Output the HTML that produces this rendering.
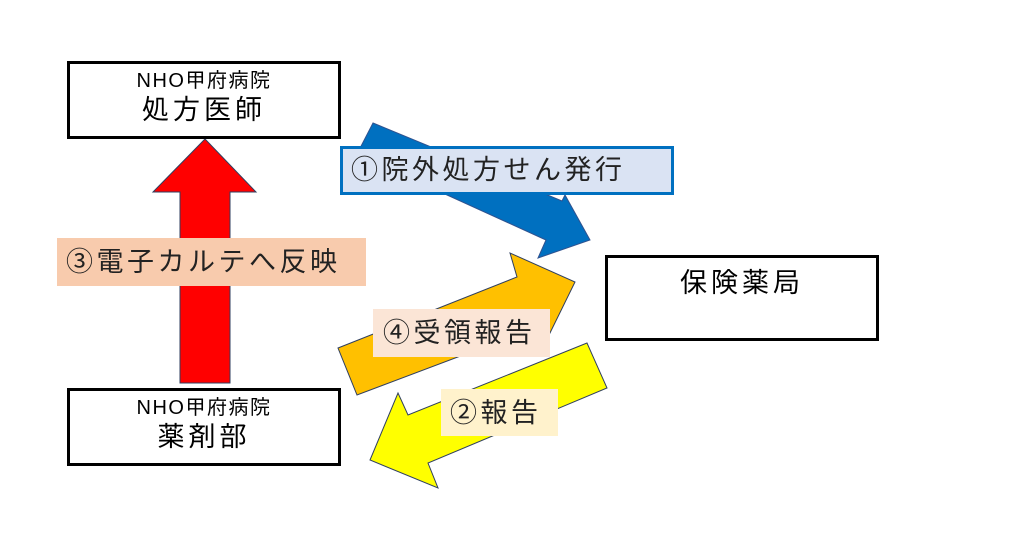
<!DOCTYPE html>
<html><head><meta charset="utf-8"><style>
body{margin:0;width:1018px;height:543px;background:#fff;position:relative;overflow:hidden;font-family:"Liberation Sans","Noto Sans CJK JP",sans-serif;}
.box{position:absolute;border:3px solid #000;background:#fff;box-sizing:border-box;text-align:center;color:#000;}
.lbl{position:absolute;box-sizing:border-box;font-size:27px;line-height:48px;color:#222;white-space:nowrap;letter-spacing:3.5px;}
.s{font-size:20px;margin-top:5px;line-height:24px;letter-spacing:1.5px}
.b{font-size:27px;line-height:34px;letter-spacing:4px}
</style></head><body>
<svg width="1018" height="543" style="position:absolute;left:0;top:0">
<polygon points="180,383 180,192 153,192 205,139 256,192 230,192 230,383" fill="#ff0000" stroke="#2f3f5f" stroke-width="1"/>
<polygon points="373,123 562,201 565,195 590,240 538,258 546,240 357,154" fill="#0070c0" stroke="#2f528f" stroke-width="1"/>
<polygon points="338,348 517,277 510,253 575,282 548,337 548,323 357,395" fill="#ffc000" stroke="#2f3f5f" stroke-width="1"/>
<polygon points="587,343 408,415 398,393 370,460 438,488 428,463 607,388" fill="#ffff00" stroke="#2f3f5f" stroke-width="1"/>
</svg>
<div class="box" style="left:67px;top:61px;width:274px;height:78px;"><div class="s">NHO甲府病院</div><div class="b">処方医師</div></div>
<div class="box" style="left:67px;top:388px;width:274px;height:78px;"><div class="s">NHO甲府病院</div><div class="b">薬剤部</div></div>
<div class="box" style="left:605px;top:255px;width:274px;height:86px;"><div class="b" style="margin-top:8px">保険薬局</div></div>
<div class="lbl" style="left:340px;top:146px;width:334px;height:49px;background:#dae3f3;border:3px solid #0070c0;line-height:43px;padding-left:8px">①院外処方せん発行</div>
<div class="lbl" style="left:57px;top:238px;width:309px;height:48px;background:#f8cbad;padding-left:9px">③電子カルテへ反映</div>
<div class="lbl" style="left:373px;top:309px;width:177px;height:48px;background:#fbe5d6;padding-left:10px">④受領報告</div>
<div class="lbl" style="left:441px;top:389px;width:117px;height:47px;background:#fff2cc;padding-left:9px">②報告</div>
</body></html>
